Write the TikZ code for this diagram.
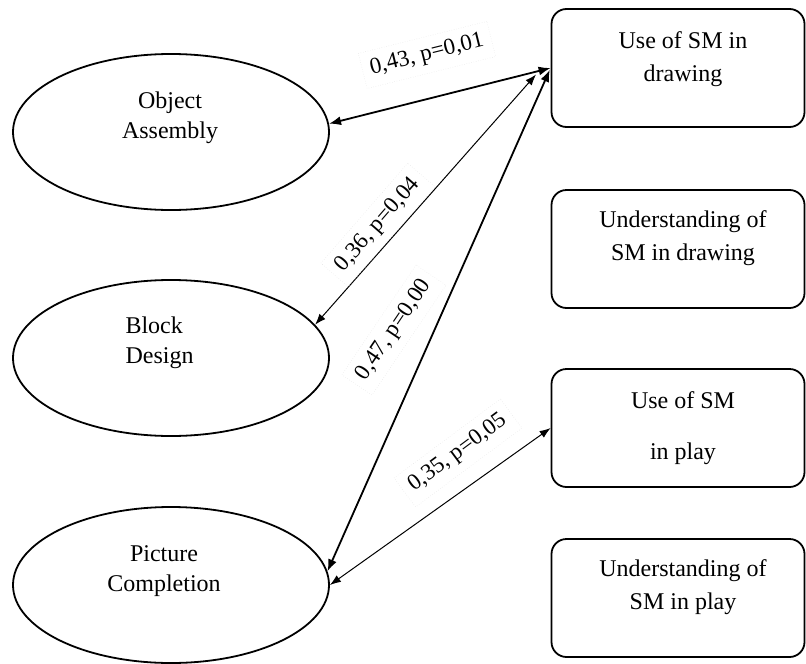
\documentclass[tikz,border=0pt]{standalone}
\usepackage{fontspec}
\setmainfont{Liberation Serif}
\usetikzlibrary{shapes.geometric,arrows.meta,calc}
\begin{document}
\begin{tikzpicture}[x=1pt,y=-1pt,
  ell/.style={draw,line width=1.8pt,ellipse,minimum width=316pt,minimum height=156pt,inner sep=0pt},
  rbox/.style={draw,line width=1.8pt,rectangle,rounded corners=15pt,minimum width=253pt,minimum height=118pt,inner sep=0pt},
  etext/.style={font=\fontsize{24}{30}\selectfont,align=center},
  btext/.style={font=\fontsize{24}{33}\selectfont,align=center},
  lbl/.style={font=\fontsize{23}{28}\selectfont,draw=gray!30,dotted,inner sep=8pt},
  thick arrow/.style={line width=1.8pt,{Latex[length=12pt,width=9pt]}-{Latex[length=12pt,width=9pt]}},
  thin arrow/.style={line width=1pt,{Latex[length=11pt,width=8pt]}-{Latex[length=11pt,width=8pt]}}
]
\useasboundingbox (0,0) rectangle (806,664);
% ellipses
\node[ell] (oa) at (171,132) {};
\node[ell] (bd) at (171,358) {};
\node[ell] (pc) at (171,585) {};
\node[etext] (oat) at (170,118) {Object\\Assembly};
\node[etext,align=left,anchor=west] (bdt) at (122,343) {Block\\Design};
\node[etext] (pct) at (164,571) {Picture\\Completion};
% boxes
\node[rbox] (b1) at (678,68) {};
\node[rbox] (b2) at (678,249) {};
\node[rbox] (b3) at (678,428) {};
\node[rbox] (b4) at (678,598) {};
\node[btext] (b1t) at (683,59) {Use of SM in\\drawing};
\node[btext] (b2t) at (683,238) {Understanding of\\SM in drawing};
\node[btext,font=\fontsize{24}{51}\selectfont] (b3t) at (683,428) {Use of SM\\in play};
\node[btext] (b4t) at (683,587) {Understanding of\\SM in play};
% connectors
\draw[thick arrow] (oa.3) -- (b1.west);
\draw[thin arrow,shorten >=22pt] (bd.13) -- ($(b1.west)+(0,-10)$);
\draw[thick arrow,shorten >=2pt] (pc.5) -- (b1.west);
\draw[thin arrow] (pc.east) -- (b3.west);
% labels
\node[lbl,rotate=14] (l1) at (427,55) {0,43, p=0,01};
\node[lbl,rotate=49] (l2) at (378,225) {0,36, p=0,04};
\node[lbl,rotate=56] (l3) at (394,330) {0,47, p=0,00};
\node[lbl,rotate=36.6] (l4) at (458,453) {0,35, p=0,05};
\end{tikzpicture}
\end{document}
